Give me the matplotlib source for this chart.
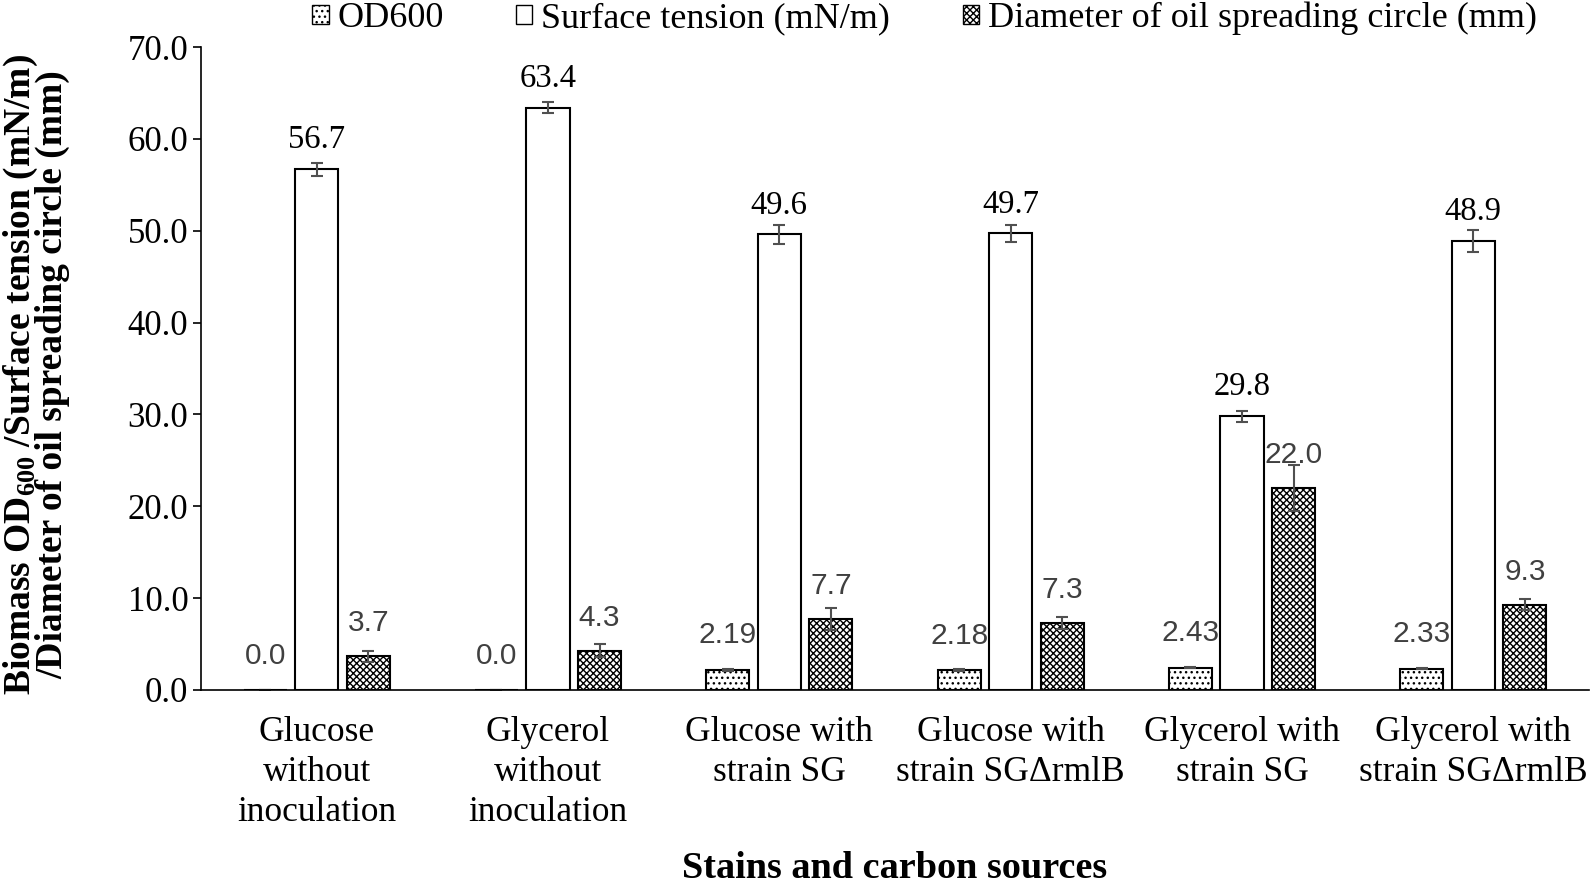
import matplotlib
matplotlib.use("Agg")
import matplotlib.pyplot as plt
import numpy as np
from matplotlib.patches import Patch

plt.rcParams['font.family'] = ['Liberation Serif']
plt.rcParams['mathtext.fontset'] = 'custom'
plt.rcParams['mathtext.rm'] = 'Liberation Serif:bold'
plt.rcParams['mathtext.default'] = 'rm'
plt.rcParams['hatch.linewidth'] = 1.0

categories = ["Glucose\nwithout\ninoculation", "Glycerol\nwithout\ninoculation",
              "Glucose with\nstrain SG", "Glucose with\nstrain SG\u0394rmlB",
              "Glycerol with\nstrain SG", "Glycerol with\nstrain SG\u0394rmlB"]
od600 = [0.0, 0.0, 2.19, 2.18, 2.43, 2.33]
od600_err = [0.0, 0.0, 0.08, 0.08, 0.08, 0.06]
od600_lbl = ["0.0", "0.0", "2.19", "2.18", "2.43", "2.33"]
tension = [56.7, 63.4, 49.6, 49.7, 29.8, 48.9]
tension_err = [0.7, 0.6, 1.0, 0.9, 0.6, 1.2]
diameter = [3.7, 4.3, 7.7, 7.3, 22.0, 9.3]
diameter_err = [0.6, 0.7, 1.2, 0.7, 2.5, 0.6]
legend_labels = ["OD600", "Surface tension (mN/m)", "Diameter of oil spreading circle (mm)"]
yticks = [0, 10, 20, 30, 40, 50, 60, 70]

fig = plt.figure(figsize=(15.94, 8.84), dpi=100)
ax = fig.add_axes([201/1594, 1 - 690/884, (1589-201)/1594, (690-47)/884])

x = np.arange(len(categories))
w = 0.186
step = 0.223
errc = '#505050'
ekw = dict(ecolor=errc, elinewidth=1.5, capsize=4, capthick=1.5)

ax.bar(x - step, od600, w, color='white', edgecolor='black', hatch='...', linewidth=1.5,
       yerr=od600_err, error_kw=ekw)
ax.bar(x, tension, w, color='white', edgecolor='black', linewidth=1.5,
       yerr=tension_err, error_kw=ekw)
ax.bar(x + step, diameter, w, color='white', edgecolor='black', hatch='xxxxx', linewidth=1.5,
       yerr=diameter_err, error_kw=ekw)

sansfont = dict(family='Liberation Sans', fontsize=21.5, color='#404040', ha='center', va='baseline')
seriffont = dict(family='Liberation Serif', fontsize=23.5, color='black', ha='center', va='baseline')
for i in range(len(x)):
    ax.annotate(od600_lbl[i], (x[i] - step, od600[i]), xytext=(0, 19), textcoords='offset points', **sansfont)
    ax.annotate(f"{tension[i]:.1f}", (x[i], tension[i]), xytext=(0, 15), textcoords='offset points', **seriffont)
    ax.annotate(f"{diameter[i]:.1f}", (x[i] + step, diameter[i]), xytext=(0, 18), textcoords='offset points', **sansfont)

ax.set_xlim(-0.5, len(x) - 0.5)
ax.set_ylim(0, 70)
ax.set_yticks(yticks)
ax.set_yticklabels([f"{v:.1f}" for v in yticks], fontsize=25)
ax.set_xticks(x)
ax.set_xticklabels(categories, fontsize=25.5, linespacing=1.27)
ax.tick_params(axis='x', length=0, pad=19)
ax.tick_params(axis='y', direction='out', length=6, width=1.2, pad=3)
for s in ['top', 'right']:
    ax.spines[s].set_visible(False)
for s in ['left', 'bottom']:
    ax.spines[s].set_linewidth(1.2)

ax.set_ylabel("Biomass OD$_{600}$ /Surface tension (mN/m)\n/Diameter of oil spreading circle (mm)",
              fontsize=27, fontweight='bold', linespacing=0.8)
ax.yaxis.set_label_coords((70 - 201) / 1388, 0.49)
ax.set_xlabel("Stains and carbon sources", fontsize=27.5, fontweight='bold', va='center')
ax.xaxis.set_label_coords(0.5, -(869 - 690) / 643)

handles = [Patch(facecolor='white', edgecolor='black', hatch='...'),
           Patch(facecolor='white', edgecolor='black'),
           Patch(facecolor='white', edgecolor='black', hatch='xxxxx')]
fig.legend(handles, legend_labels, loc='center', bbox_to_anchor=(0.580, 0.979), ncol=3,
           frameon=False, fontsize=26, handlelength=0.45, handleheight=0.45, columnspacing=2.0,
           handletextpad=0.25, borderpad=0, borderaxespad=0)

fig.savefig("out.png", dpi=100)
